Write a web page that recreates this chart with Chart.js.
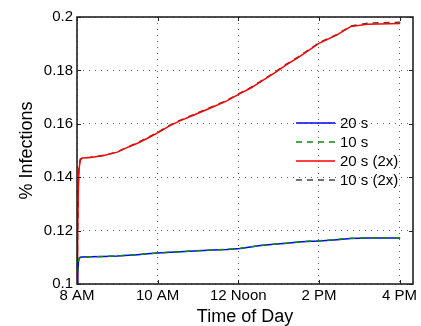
<!DOCTYPE html>
<html>
<head>
<meta charset="utf-8">
<script src="https://cdn.jsdelivr.net/npm/chart.js@4"></script>
<style>
  body { margin: 0; background: #fff; }
  #wrap { width: 421px; height: 326px; }
</style>
</head>
<body>
<div id="wrap"><canvas id="infectionChart" width="421" height="326"></canvas></div>
<script>
// minutes after 8 AM
const minutes = [0, 1, 2, 3, 5, 8, 20, 40, 60, 70, 90, 105, 120, 139, 154, 174, 203, 223, 243, 258, 273, 293, 312, 330, 342, 360, 387, 407, 432, 481];

const run20s = [0.100, 0.104, 0.108, 0.1095, 0.1100, 0.1101, 0.1102, 0.1103, 0.1105, 0.1107, 0.1110, 0.1113, 0.1116, 0.1119, 0.1121, 0.1124, 0.1127, 0.1129, 0.1133, 0.1139, 0.1144, 0.1149, 0.1153, 0.1157, 0.1159, 0.1161, 0.1166, 0.1170, 0.1172, 0.1172];
const run10s = [0.100, 0.105, 0.1085, 0.1096, 0.1100, 0.1101, 0.1102, 0.1103, 0.1105, 0.1107, 0.1110, 0.1113, 0.1116, 0.1119, 0.1121, 0.1124, 0.1127, 0.1130, 0.1134, 0.1139, 0.1144, 0.1149, 0.1153, 0.1157, 0.1160, 0.1162, 0.1167, 0.1171, 0.1173, 0.1173];
const run20s2x = [0.100, 0.118, 0.136, 0.143, 0.1465, 0.1472, 0.1474, 0.1481, 0.1494, 0.1506, 0.1527, 0.1546, 0.1566, 0.1594, 0.1612, 0.1633, 0.1664, 0.1686, 0.1714, 0.1733, 0.1757, 0.1789, 0.1822, 0.1850, 0.1870, 0.1901, 0.1933, 0.1964, 0.1973, 0.1976];
const run10s2x = [0.100, 0.120, 0.138, 0.1445, 0.1468, 0.1473, 0.1475, 0.1482, 0.1495, 0.1507, 0.1529, 0.1548, 0.1568, 0.1596, 0.1614, 0.1635, 0.1666, 0.1688, 0.1716, 0.1735, 0.1759, 0.1791, 0.1824, 0.1852, 0.1872, 0.1903, 0.1935, 0.1966, 0.1977, 0.1980];

const xTickValues = [0, 120, 240, 360, 480];
const xTickLabels = ['8 AM', '10 AM', '12 Noon', '2 PM', '4 PM'];

const FONT = "'Liberation Sans', Arial, Helvetica, sans-serif";

const toPoints = ys => minutes.map((m, i) => ({ x: m, y: ys[i] }));

// box round the plot, inward tick marks, and the legend inside the plot
const matlabFrame = {
    id: 'matlabFrame',
    afterDatasetsDraw(chart) {
        const { ctx, chartArea: a, scales } = chart;
        ctx.save();
        ctx.strokeStyle = '#222';
        ctx.lineWidth = 1;
        ctx.beginPath();
        scales.x.ticks.forEach(t => {
            const px = Math.round(scales.x.getPixelForValue(t.value)) + 0.5;
            ctx.moveTo(px, a.bottom); ctx.lineTo(px, a.bottom - 4);
            ctx.moveTo(px, a.top); ctx.lineTo(px, a.top + 4);
        });
        scales.y.ticks.forEach(t => {
            const py = Math.round(scales.y.getPixelForValue(t.value)) + 0.5;
            ctx.moveTo(a.left, py); ctx.lineTo(a.left + 4, py);
            ctx.moveTo(a.right, py); ctx.lineTo(a.right - 4, py);
        });
        ctx.stroke();
        ctx.lineWidth = 1.6;
        ctx.strokeRect(a.left, a.top, a.right - a.left, a.bottom - a.top);
        ctx.restore();
    },
    afterDraw(chart) {
        const { ctx, chartArea: a } = chart;
        const x0 = a.right - 117;
        ctx.save();
        ctx.font = '15px ' + FONT;
        ctx.textBaseline = 'middle';
        chart.data.datasets.forEach((ds, i) => {
            const y = 123 + i * 19;
            ctx.strokeStyle = ds.borderColor;
            ctx.lineWidth = ds.borderWidth;
            ctx.setLineDash(ds.borderDash || []);
            ctx.beginPath();
            ctx.moveTo(x0, y); ctx.lineTo(x0 + 39, y);
            ctx.stroke();
            ctx.setLineDash([]);
            ctx.fillStyle = '#000';
            ctx.fillText(ds.label, x0 + 44, y + 1);
        });
        ctx.restore();
    }
};

const ctx = document.getElementById('infectionChart').getContext('2d');
new Chart(ctx, {
    type: 'line',
    data: {
        datasets: [
            { label: '20 s', data: toPoints(run20s), borderColor: '#0000ff', borderWidth: 1.5, order: 2 },
            { label: '10 s', data: toPoints(run10s), borderColor: '#118811', borderWidth: 1.5, borderDash: [6, 5], order: 1 },
            { label: '20 s (2x)', data: toPoints(run20s2x), borderColor: '#ff0000', borderWidth: 1.5, order: 3 },
            { label: '10 s (2x)', data: toPoints(run10s2x), borderColor: '#444444', borderWidth: 1.5, borderDash: [6, 5], order: 4 }
        ]
    },
    options: {
        responsive: false,
        animation: false,
        elements: { point: { radius: 0 }, line: { tension: 0, fill: false } },
        layout: { padding: { left: 16, top: 17, right: 8, bottom: 0 } },
        scales: {
            x: {
                type: 'linear',
                min: 0,
                max: 500,
                afterBuildTicks: scale => { scale.ticks = xTickValues.map(v => ({ value: v })); },
                afterFit: scale => { scale.height = 42; },
                ticks: {
                    color: '#000',
                    font: { family: FONT, size: 15 },
                    padding: 3,
                    maxRotation: 0,
                    autoSkip: false,
                    callback: v => xTickLabels[xTickValues.indexOf(v)]
                },
                grid: { color: '#666', lineWidth: 1, drawTicks: false },
                border: { display: false, dash: [1, 5] },
                title: {
                    display: true,
                    text: 'Time of Day',
                    color: '#000',
                    font: { family: FONT, size: 18, lineHeight: 1.05 },
                    padding: { top: 0, bottom: 0 }
                }
            },
            y: {
                min: 0.1,
                max: 0.2,
                afterFit: scale => { scale.width = 61; },
                ticks: {
                    stepSize: 0.02,
                    color: '#000',
                    font: { family: FONT, size: 15 },
                    padding: 4,
                    callback: v => String(Number(v.toFixed(2)))
                },
                grid: { color: '#666', lineWidth: 1, drawTicks: false },
                border: { display: false, dash: [1, 5] },
                title: {
                    display: true,
                    text: '% Infections',
                    color: '#000',
                    font: { family: FONT, size: 18 },
                    padding: { top: 0, bottom: 0 }
                }
            }
        },
        plugins: {
            legend: { display: false },
            tooltip: { enabled: false }
        }
    },
    plugins: [matlabFrame]
});
</script>
</body>
</html>
